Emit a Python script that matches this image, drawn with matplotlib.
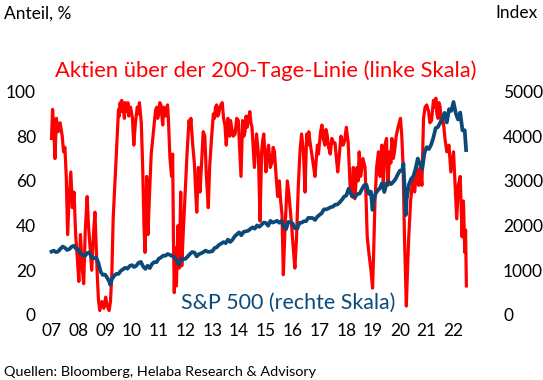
import matplotlib.pyplot as plt
import numpy as np

plt.rcParams['font.family'] = ['Lato', 'DejaVu Sans']

# Anteil der S&P-500-Aktien ueber der 200-Tage-Linie, in %
aktien_t = [2007.00, 2007.04, 2007.08, 2007.13, 2007.18, 2007.25, 2007.32, 2007.40, 2007.45, 2007.50,
            2007.55, 2007.60, 2007.65, 2007.72, 2007.78, 2007.84, 2007.90, 2007.96, 2008.02, 2008.08,
            2008.14, 2008.20, 2008.26, 2008.33, 2008.38, 2008.44, 2008.50, 2008.56, 2008.62, 2008.66,
            2008.71, 2008.75, 2008.80, 2008.88, 2008.95, 2009.02, 2009.08, 2009.15, 2009.20, 2009.25,
            2009.30, 2009.36, 2009.42, 2009.50, 2009.53, 2009.56, 2009.59, 2009.62, 2009.68, 2009.72,
            2009.75, 2009.82, 2009.85, 2009.88, 2009.95, 2010.02, 2010.07, 2010.13, 2010.20, 2010.24,
            2010.28, 2010.35, 2010.40, 2010.45, 2010.49, 2010.55, 2010.60, 2010.66, 2010.72, 2010.80,
            2010.83, 2010.86, 2010.89, 2010.93, 2010.96, 2011.00, 2011.04, 2011.08, 2011.11, 2011.15,
            2011.18, 2011.22, 2011.26, 2011.30, 2011.33, 2011.36, 2011.42, 2011.48, 2011.52, 2011.55,
            2011.58, 2011.62, 2011.66, 2011.72, 2011.77, 2011.82, 2011.86, 2011.92, 2012.00, 2012.06,
            2012.13, 2012.17, 2012.20, 2012.27, 2012.33, 2012.38, 2012.42, 2012.48, 2012.54, 2012.60,
            2012.66, 2012.72, 2012.78, 2012.85, 2012.90, 2012.97, 2013.04, 2013.08, 2013.12, 2013.16,
            2013.20, 2013.24, 2013.28, 2013.32, 2013.37, 2013.42, 2013.47, 2013.52, 2013.58, 2013.62,
            2013.65, 2013.68, 2013.72, 2013.78, 2013.85, 2013.91, 2013.97, 2014.07, 2014.13, 2014.18,
            2014.22, 2014.26, 2014.30, 2014.35, 2014.40, 2014.44, 2014.48, 2014.57, 2014.65, 2014.72,
            2014.78, 2014.84, 2014.88, 2014.92, 2015.00, 2015.05, 2015.10, 2015.16, 2015.22, 2015.27,
            2015.32, 2015.38, 2015.44, 2015.50, 2015.55, 2015.60, 2015.65, 2015.71, 2015.80, 2015.85,
            2015.96, 2016.02, 2016.08, 2016.14, 2016.21, 2016.27, 2016.33, 2016.40, 2016.46, 2016.52,
            2016.56, 2016.60, 2016.65, 2016.70, 2016.76, 2016.83, 2016.92, 2016.96, 2017.00, 2017.04,
            2017.09, 2017.14, 2017.20, 2017.24, 2017.28, 2017.34, 2017.40, 2017.46, 2017.52, 2017.58,
            2017.63, 2017.68, 2017.75, 2017.80, 2017.88, 2017.94, 2018.00, 2018.07, 2018.14, 2018.20,
            2018.26, 2018.32, 2018.40, 2018.44, 2018.48, 2018.54, 2018.62, 2018.70, 2018.74, 2018.78,
            2018.84, 2018.92, 2018.98, 2019.02, 2019.07, 2019.13, 2019.20, 2019.26, 2019.32, 2019.38,
            2019.44, 2019.50, 2019.55, 2019.62, 2019.66, 2019.70, 2019.75, 2019.80, 2019.86, 2019.93,
            2020.02, 2020.07, 2020.12, 2020.17, 2020.24, 2020.28, 2020.33, 2020.40, 2020.48, 2020.55,
            2020.63, 2020.70, 2020.76, 2020.82, 2020.88, 2020.94, 2021.00, 2021.07, 2021.12, 2021.18,
            2021.22, 2021.25, 2021.30, 2021.34, 2021.38, 2021.42, 2021.46, 2021.50, 2021.55, 2021.60,
            2021.64, 2021.68, 2021.75, 2021.83, 2021.90, 2022.00, 2022.06, 2022.12, 2022.18, 2022.25,
            2022.32, 2022.37, 2022.42, 2022.45, 2022.48]
aktien_v = [79, 92, 84, 70, 88, 82, 86, 80, 73, 75,
            62, 36, 50, 64, 48, 55, 36, 26, 15, 36,
            22, 14, 38, 53, 40, 30, 20, 35, 46, 33,
            17, 7, 2, 6, 3, 8, 4, 2, 6, 18,
            43, 58, 73, 92, 89, 95, 91, 96, 92, 88,
            95, 91, 95, 89, 93, 88, 76, 86, 93, 90,
            95, 86, 67, 40, 28, 62, 36, 55, 72, 82,
            86, 89, 92, 93, 88, 90, 95, 94, 90, 85,
            93, 92, 89, 93, 94, 88, 70, 62, 72, 34,
            10, 30, 13, 40, 21, 55, 22, 38, 58, 73,
            87, 84, 88, 76, 68, 55, 46, 66, 55, 68,
            82, 80, 62, 48, 66, 79, 90, 88, 93, 94,
            89, 90, 93, 94, 95, 88, 85, 76, 88, 83,
            80, 87, 84, 80, 81, 88, 87, 62, 87, 80,
            82, 89, 84, 88, 91, 86, 84, 66, 81, 72,
            42, 73, 78, 81, 64, 72, 76, 66, 68, 75,
            73, 62, 53, 60, 51, 45, 18, 38, 60, 55,
            40, 30, 21, 34, 58, 73, 81, 73, 55, 81,
            76, 82, 77, 73, 68, 62, 76, 72, 77, 82,
            85, 79, 76, 83, 81, 75, 72, 79, 77, 77,
            70, 64, 73, 80, 76, 78, 84, 77, 58, 53,
            66, 52, 66, 60, 73, 62, 70, 66, 51, 35,
            28, 20, 12, 28, 51, 66, 73, 62, 76, 58,
            76, 79, 58, 73, 68, 79, 70, 73, 80, 84,
            88, 80, 66, 35, 4, 19, 35, 51, 61, 55,
            66, 58, 66, 58, 88, 93, 94, 91, 86, 87,
            92, 96, 93, 97, 90, 88, 95, 93, 86, 88,
            84, 79, 73, 76, 64, 73, 58, 43, 58, 62,
            35, 51, 28, 38, 13]

# S&P 500, Monatsendstaende (Dez 2006 bis Mai 2022)
sp500 = [1418,
         1438, 1407, 1421, 1482, 1531, 1503, 1455, 1474, 1527, 1549, 1481, 1468,
         1379, 1331, 1323, 1386, 1400, 1280, 1267, 1283, 1166, 969, 896, 903,
         826, 735, 798, 873, 919, 919, 987, 1021, 1057, 1036, 1096, 1115,
         1074, 1104, 1169, 1187, 1089, 1031, 1102, 1049, 1141, 1183, 1181, 1258,
         1286, 1327, 1326, 1364, 1345, 1321, 1292, 1219, 1131, 1253, 1247, 1258,
         1312, 1366, 1408, 1398, 1310, 1362, 1379, 1407, 1441, 1412, 1416, 1426,
         1498, 1515, 1569, 1598, 1631, 1606, 1686, 1633, 1682, 1757, 1806, 1848,
         1783, 1859, 1872, 1884, 1924, 1960, 1931, 2003, 1972, 2018, 2068, 2059,
         1995, 2105, 2068, 2086, 2107, 2063, 2104, 1972, 1920, 2079, 2080, 2044,
         1940, 1932, 2060, 2065, 2097, 2099, 2174, 2171, 2168, 2126, 2199, 2239,
         2279, 2364, 2363, 2384, 2412, 2423, 2470, 2472, 2519, 2575, 2648, 2674,
         2824, 2714, 2641, 2648, 2705, 2718, 2816, 2902, 2914, 2712, 2760, 2507,
         2704, 2784, 2834, 2946, 2752, 2942, 2980, 2926, 2977, 3038, 3141, 3231,
         3226, 2954, 2585, 2912, 3044, 3100, 3271, 3500, 3363, 3270, 3622, 3756,
         3714, 3811, 3973, 4181, 4204, 4298, 4395, 4523, 4308, 4605, 4567, 4766,
         4516, 4374, 4530, 4132, 4132]
# Extremwerte innerhalb eines Monats und letzter Stand
sp_extra_t = [2009.19, 2018.98, 2020.13, 2020.22, 2022.47]
sp_extra_v = [677, 2351, 3386, 2237, 3690]

jahre = list(range(2007, 2023))
jahr_labels = [str(j)[2:] for j in jahre]

rot = '#ff0000'
blau = '#0b4a78'

sp_t = [2007 + i / 12 for i in range(len(sp500))] + sp_extra_t
sp_v = sp500 + sp_extra_v
order = np.argsort(sp_t)
sp_t = np.array(sp_t)[order]
sp_v = np.array(sp_v)[order]

fig = plt.figure(figsize=(5.43, 3.80), dpi=100)
ax = fig.add_axes([0.0737, 0.1711, 0.8195, 0.5881])
ax2 = ax.twinx()

ax.plot(aktien_t, aktien_v, color=rot, lw=2.3, clip_on=False)
ax2.plot(sp_t, sp_v, color=blau, lw=2.7, clip_on=False)

ax.set_xlim(2006.571, 2023.175)
ax.set_ylim(0, 100)
ax2.set_ylim(0, 5000)
ax.set_yticks(range(0, 101, 20))
ax2.set_yticks(range(0, 5001, 1000))
ax.set_xticks(jahre)
ax.set_xticklabels(jahr_labels)

for a in (ax, ax2):
    for s in a.spines.values():
        s.set_visible(False)
    a.tick_params(length=0, labelsize=12.5, colors='black')
ax.tick_params(axis='y', pad=3)
ax.tick_params(axis='x', pad=6)
ax2.tick_params(axis='y', pad=13)

fig.text(0.008, 0.965, 'Anteil, %', fontsize=12.5, ha='left', va='center')
fig.text(0.99, 0.965, 'Index', fontsize=12.5, ha='right', va='center')
fig.text(0.49, 0.813, 'Aktien über der 200-Tage-Linie (linke Skala)',
         fontsize=15.8, color=rot, ha='center', va='center')
fig.text(0.531, 0.203, 'S&P 500 (rechte Skala)',
         fontsize=15.4, color=blau, ha='center', va='center')
fig.text(0.008, 0.021, 'Quellen: Bloomberg, Helaba Research & Advisory',
         fontsize=10.4, ha='left', va='center')

fig.savefig('out.png', dpi=100)
